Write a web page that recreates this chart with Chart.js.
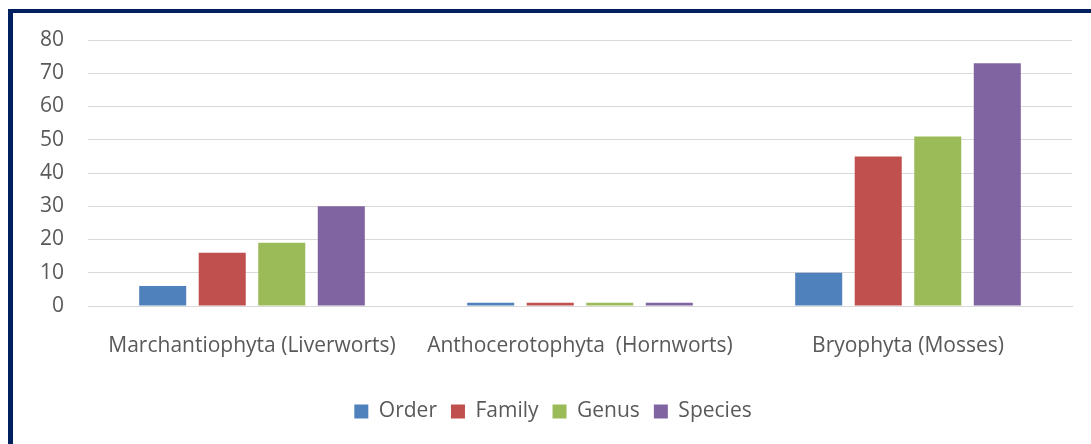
<!DOCTYPE html>
<html>
<head>
<meta charset="utf-8">
<script src="https://cdn.jsdelivr.net/npm/chart.js@4/dist/chart.umd.min.js"></script>
<style>
  html, body { margin: 0; padding: 0; background: #fff; }
  #wrap { position: relative; width: 1091px; height: 444px; }
  #frame { position: absolute; left: 8px; top: 9px; right: 0; bottom: 0;
           border-left: 5px solid #002060; border-top: 4px solid #002060; pointer-events: none; }
  canvas { position: absolute; left: 0; top: 0; }
</style>
</head>
<body>
<div id="wrap">
  <canvas id="bryoChart" width="1091" height="444"></canvas>
  <div id="frame"></div>
</div>
<script>
const categories = ["Marchantiophyta (Liverworts)", "Anthocerotophyta  (Hornworts)", "Bryophyta (Mosses)"];
const orderCounts = [6, 1, 10];
const familyCounts = [16, 1, 45];
const genusCounts = [19, 1, 51];
const speciesCounts = [30, 1, 73];
const yTicks = [0, 10, 20, 30, 40, 50, 60, 70, 80];

const fontFamily = "'Open Sans', 'Noto Sans', sans-serif";
const textColor = "#595959";
const fontSize = 21;

const chartElement = document.getElementById("bryoChart");

const data = {
  labels: categories,
  datasets: [
    { label: "Order", data: orderCounts, backgroundColor: "#4f81bd" },
    { label: "Family", data: familyCounts, backgroundColor: "#c0504d" },
    { label: "Genus", data: genusCounts, backgroundColor: "#9bbb59" },
    { label: "Species", data: speciesCounts, backgroundColor: "#8064a2" }
  ]
};

const options = {
  responsive: false,
  animation: false,
  categoryPercentage: 0.726,
  barPercentage: 0.79,
  layout: { padding: { left: 34, right: 19, top: 40, bottom: 12 } },
  scales: {
    x: {
      grid: { display: false, drawTicks: false },
      border: { color: "#d9d9d9", width: 1 },
      ticks: { color: textColor, font: { family: fontFamily, size: fontSize }, padding: 27, maxRotation: 0 },
      afterFit: (s) => { s.height = 81; }
    },
    y: {
      min: 0,
      max: 80,
      afterBuildTicks: (s) => { s.ticks = yTicks.map(v => ({ value: v })); },
      grid: { color: "#d9d9d9", lineWidth: 1, drawTicks: false },
      border: { display: false },
      ticks: { color: textColor, font: { family: fontFamily, size: fontSize }, padding: 24 },
      afterFit: (s) => { s.width = 54; }
    }
  },
  plugins: {
    legend: {
      position: "bottom",
      labels: {
        color: textColor,
        font: { family: fontFamily, size: fontSize },
        boxWidth: 14,
        boxHeight: 14,
        padding: 14
      }
    },
    tooltip: { enabled: false }
  }
};

new Chart(chartElement, { type: "bar", data: data, options: options });
</script>
</body>
</html>
